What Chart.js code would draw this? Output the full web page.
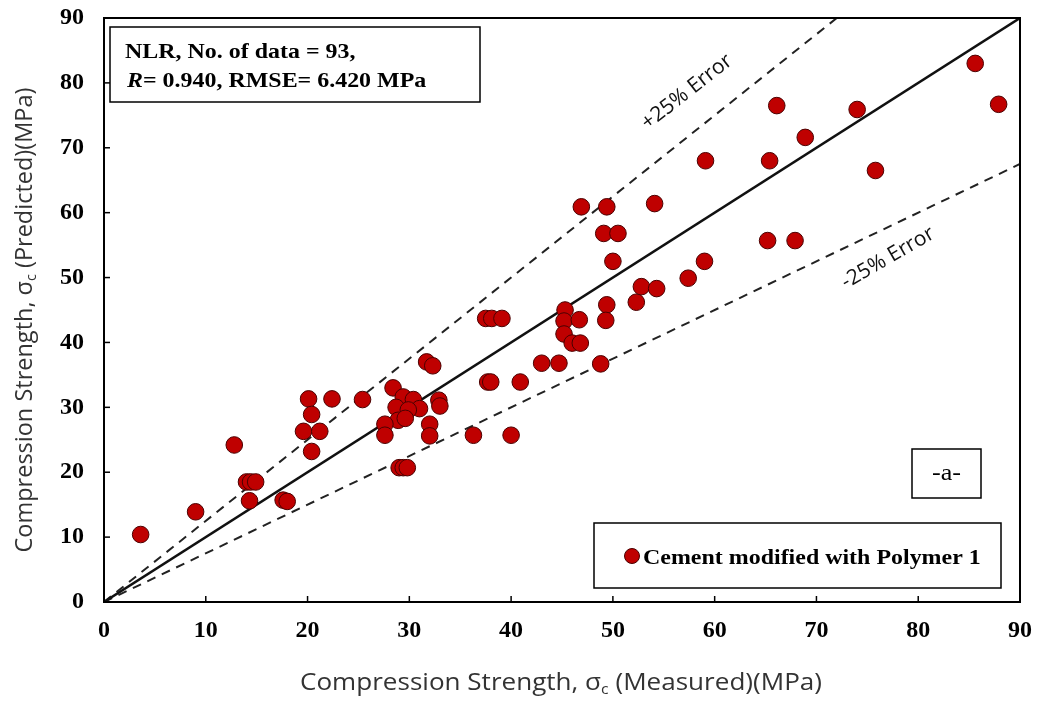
<!DOCTYPE html>
<html>
<head>
<meta charset="utf-8">
<script src="https://cdn.jsdelivr.net/npm/chart.js@4"></script>
<style>
  html, body { margin: 0; padding: 0; background: #fff; }
</style>
</head>
<body>
<canvas id="chart" width="1037" height="701"></canvas>
<script>
// values (MPa)
const measured = [
  3.6, 9.0, 12.8, 14.0, 14.4, 14.9, 14.3, 17.6, 18.0, 20.1,
  20.4, 19.6, 21.2, 20.4, 22.4, 25.4, 28.4, 29.4, 30.4, 31.0,
  28.7, 29.9, 28.9, 27.6, 27.6, 29.6, 32.0, 32.0, 32.9, 33.0,
  31.7, 32.3, 29.0, 29.4, 29.8, 37.7, 38.0, 40.9, 36.3, 40.0,
  43.0, 44.7, 48.8, 37.5, 38.1, 39.1, 45.3, 45.2, 46.7, 49.4,
  49.3, 45.2, 46.0, 46.8, 52.3, 52.8, 54.3, 50.0, 49.1, 50.5,
  46.9, 49.4, 54.1, 57.4, 59.0, 65.2, 67.9, 59.1, 65.4, 66.1,
  68.9, 74.0, 75.8, 85.6, 87.9
];
const predicted = [
  10.4, 13.9, 24.2, 18.5, 18.5, 18.5, 15.6, 15.7, 15.5, 31.3,
  28.9, 26.3, 26.3, 23.2, 31.3, 31.2, 33.0, 31.6, 31.2, 29.8,
  30.0, 29.6, 28.0, 27.4, 25.7, 28.3, 27.4, 25.6, 31.1, 30.2,
  37.0, 36.4, 20.7, 20.7, 20.7, 33.9, 33.9, 33.9, 25.7, 25.7,
  36.8, 36.8, 36.7, 43.7, 43.7, 43.7, 45.0, 43.3, 43.5, 45.8,
  43.4, 41.3, 39.9, 39.9, 46.2, 48.6, 48.3, 52.5, 56.8, 56.8,
  60.9, 60.9, 61.4, 49.9, 52.5, 55.7, 55.7, 68.0, 68.0, 76.5,
  71.6, 75.9, 66.5, 83.0, 76.7
];
const axisTicks = [0, 10, 20, 30, 40, 50, 60, 70, 80, 90];
const idealX = [0, 90];
const upperX = [0, 72];   // +25% line reaches the top at 72
const lowerX = [0, 90];
const upperFactor = 1.25;
const lowerFactor = 0.75;

const points = measured.map((m, i) => ({ x: m, y: predicted[i] }));
const ideal = idealX.map(v => ({ x: v, y: v }));
const upper = upperX.map(v => ({ x: v, y: v * upperFactor }));
const lower = lowerX.map(v => ({ x: v, y: v * lowerFactor }));

const serif = "'Liberation Serif', 'Times New Roman', serif";
const sans = "'Open Sans', 'Noto Sans', sans-serif";
const stretch = 1.14; // the source picture is a bit wider than tall

// text drawn at (x, y), stretched horizontally
function wideText(ctx, text, x, y, font, align) {
  ctx.save();
  ctx.font = font;
  ctx.textAlign = align || "left";
  ctx.translate(x, y);
  ctx.scale(stretch, 1);
  ctx.fillText(text, 0, 0);
  ctx.restore();
}

// centered title with a subscript, scaled to a target width
function drawSubText(ctx, pre, sub, post, size, targetW) {
  const big = size + "px " + sans, small = Math.round(size * 0.6) + "px " + sans;
  ctx.font = big;
  const w1 = ctx.measureText(pre).width;
  const w3 = ctx.measureText(post).width;
  ctx.font = small;
  const w2 = ctx.measureText(sub).width;
  const total = w1 + w2 + w3;
  ctx.scale(targetW / total, 1);
  let x = -total / 2;
  ctx.textAlign = "left";
  ctx.textBaseline = "middle";
  ctx.font = big;
  ctx.fillText(pre, x, 0);
  x += w1;
  ctx.font = small;
  ctx.fillText(sub, x, size * 0.32);
  x += w2;
  ctx.font = big;
  ctx.fillText(post, x, 0);
}

const decor = {
  id: "decor",
  afterDraw(chart) {
    const ctx = chart.ctx;
    const a = chart.chartArea;
    const xs = chart.scales.x, ys = chart.scales.y;
    ctx.save();

    // frame
    ctx.strokeStyle = "#000";
    ctx.lineWidth = 2;
    ctx.strokeRect(a.left, a.top, a.right - a.left, a.bottom - a.top);

    // inside tick marks
    ctx.lineWidth = 1.5;
    axisTicks.slice(1, -1).forEach(v => {
      const px = xs.getPixelForValue(v);
      ctx.beginPath(); ctx.moveTo(px, a.bottom); ctx.lineTo(px, a.bottom - 6); ctx.stroke();
      const py = ys.getPixelForValue(v);
      ctx.beginPath(); ctx.moveTo(a.left, py); ctx.lineTo(a.left + 6, py); ctx.stroke();
    });

    // axis titles
    ctx.fillStyle = "#333";
    ctx.save();
    ctx.translate(561, 683);
    drawSubText(ctx, "Compression Strength, \u03c3", "c", " (Measured)(MPa)", 23, 522);
    ctx.restore();
    ctx.save();
    ctx.translate(25, 320);
    ctx.rotate(-Math.PI / 2);
    drawSubText(ctx, "Compression Strength, \u03c3", "c", " (Predicted)(MPa)", 23, 465);
    ctx.restore();

    // error labels
    ctx.fillStyle = "#111";
    ctx.font = "21px " + sans;
    ctx.textAlign = "center";
    ctx.textBaseline = "middle";
    ctx.save();
    ctx.translate(687, 92);
    ctx.rotate(-38 * Math.PI / 180);
    ctx.fillText("+25% Error", 0, 0);
    ctx.restore();
    ctx.save();
    ctx.translate(888, 258);
    ctx.rotate(-30 * Math.PI / 180);
    ctx.fillText("-25% Error", 0, 0);
    ctx.restore();

    // info box
    ctx.fillStyle = "#fff";
    ctx.fillRect(110, 27, 370, 75);
    ctx.strokeStyle = "#000";
    ctx.lineWidth = 1.5;
    ctx.strokeRect(110, 27, 370, 75);
    ctx.fillStyle = "#000";
    ctx.textBaseline = "alphabetic";
    wideText(ctx, "NLR, No. of data = 93,", 125, 58, "bold 21px " + serif);
    ctx.font = "italic bold 21px " + serif;
    const rw = ctx.measureText("R").width * stretch;
    wideText(ctx, "R", 127, 87, "italic bold 21px " + serif);
    wideText(ctx, "= 0.940, RMSE= 6.420 MPa", 127 + rw, 87, "bold 21px " + serif);

    // -a- box
    ctx.fillStyle = "#fff";
    ctx.fillRect(912, 449, 69, 49);
    ctx.strokeRect(912, 449, 69, 49);
    ctx.fillStyle = "#000";
    ctx.textBaseline = "middle";
    wideText(ctx, "-a-", 946.5, 474, "23px " + serif, "center");

    // legend
    ctx.fillStyle = "#fff";
    ctx.fillRect(594, 523, 407, 65);
    ctx.strokeRect(594, 523, 407, 65);
    ctx.beginPath();
    ctx.arc(632, 556, 7.5, 0, Math.PI * 2);
    ctx.fillStyle = "#bf0000";
    ctx.fill();
    ctx.strokeStyle = "#4a0000";
    ctx.lineWidth = 1;
    ctx.stroke();
    ctx.fillStyle = "#000";
    ctx.textBaseline = "alphabetic";
    wideText(ctx, "Cement modified with Polymer 1", 643, 564, "bold 21px " + serif);

    ctx.restore();
  }
};

const tickFont = { family: serif, size: 24, weight: "bold" };

function fitX(s) {
  s.height = 99;
  s.paddingLeft = 0; s.paddingRight = 0; s.paddingTop = 0; s.paddingBottom = 0;
}
function fitY(s) {
  s.width = 104;
  s.paddingLeft = 0; s.paddingRight = 0; s.paddingTop = 0; s.paddingBottom = 0;
}

new Chart(document.getElementById("chart"), {
  type: "scatter",
  data: {
    datasets: [
      {
        label: "Cement modified with Polymer 1",
        data: points,
        backgroundColor: "#bf0000",
        borderColor: "#4a0000",
        borderWidth: 1,
        pointRadius: 8.3,
        order: 1
      },
      {
        type: "line",
        label: "1:1",
        data: ideal,
        borderColor: "#111",
        borderWidth: 2.5,
        pointRadius: 0,
        order: 2
      },
      {
        type: "line",
        label: "+25%",
        data: upper,
        borderColor: "#222",
        borderWidth: 2,
        borderDash: [9, 7],
        pointRadius: 0,
        order: 3
      },
      {
        type: "line",
        label: "-25%",
        data: lower,
        borderColor: "#222",
        borderWidth: 2,
        borderDash: [9, 7],
        pointRadius: 0,
        order: 3
      }
    ]
  },
  options: {
    responsive: false,
    animation: false,
    layout: { padding: { top: 18, right: 17, left: 0, bottom: 0 } },
    plugins: { legend: { display: false }, tooltip: { enabled: false } },
    scales: {
      x: {
        type: "linear",
        min: 0, max: 90,
        afterBuildTicks: s => { s.ticks = axisTicks.map(v => ({ value: v })); },
        afterFit: fitX,
        ticks: { color: "#000", font: tickFont, padding: 14 },
        grid: { display: false, drawTicks: false },
        border: { display: true, color: "#000", width: 2 }
      },
      y: {
        type: "linear",
        min: 0, max: 90,
        afterBuildTicks: s => { s.ticks = axisTicks.map(v => ({ value: v })); },
        afterFit: fitY,
        ticks: { color: "#000", font: tickFont, padding: 20 },
        grid: { display: false, drawTicks: false },
        border: { display: true, color: "#000", width: 2 }
      }
    }
  },
  plugins: [decor]
});
</script>
</body>
</html>
